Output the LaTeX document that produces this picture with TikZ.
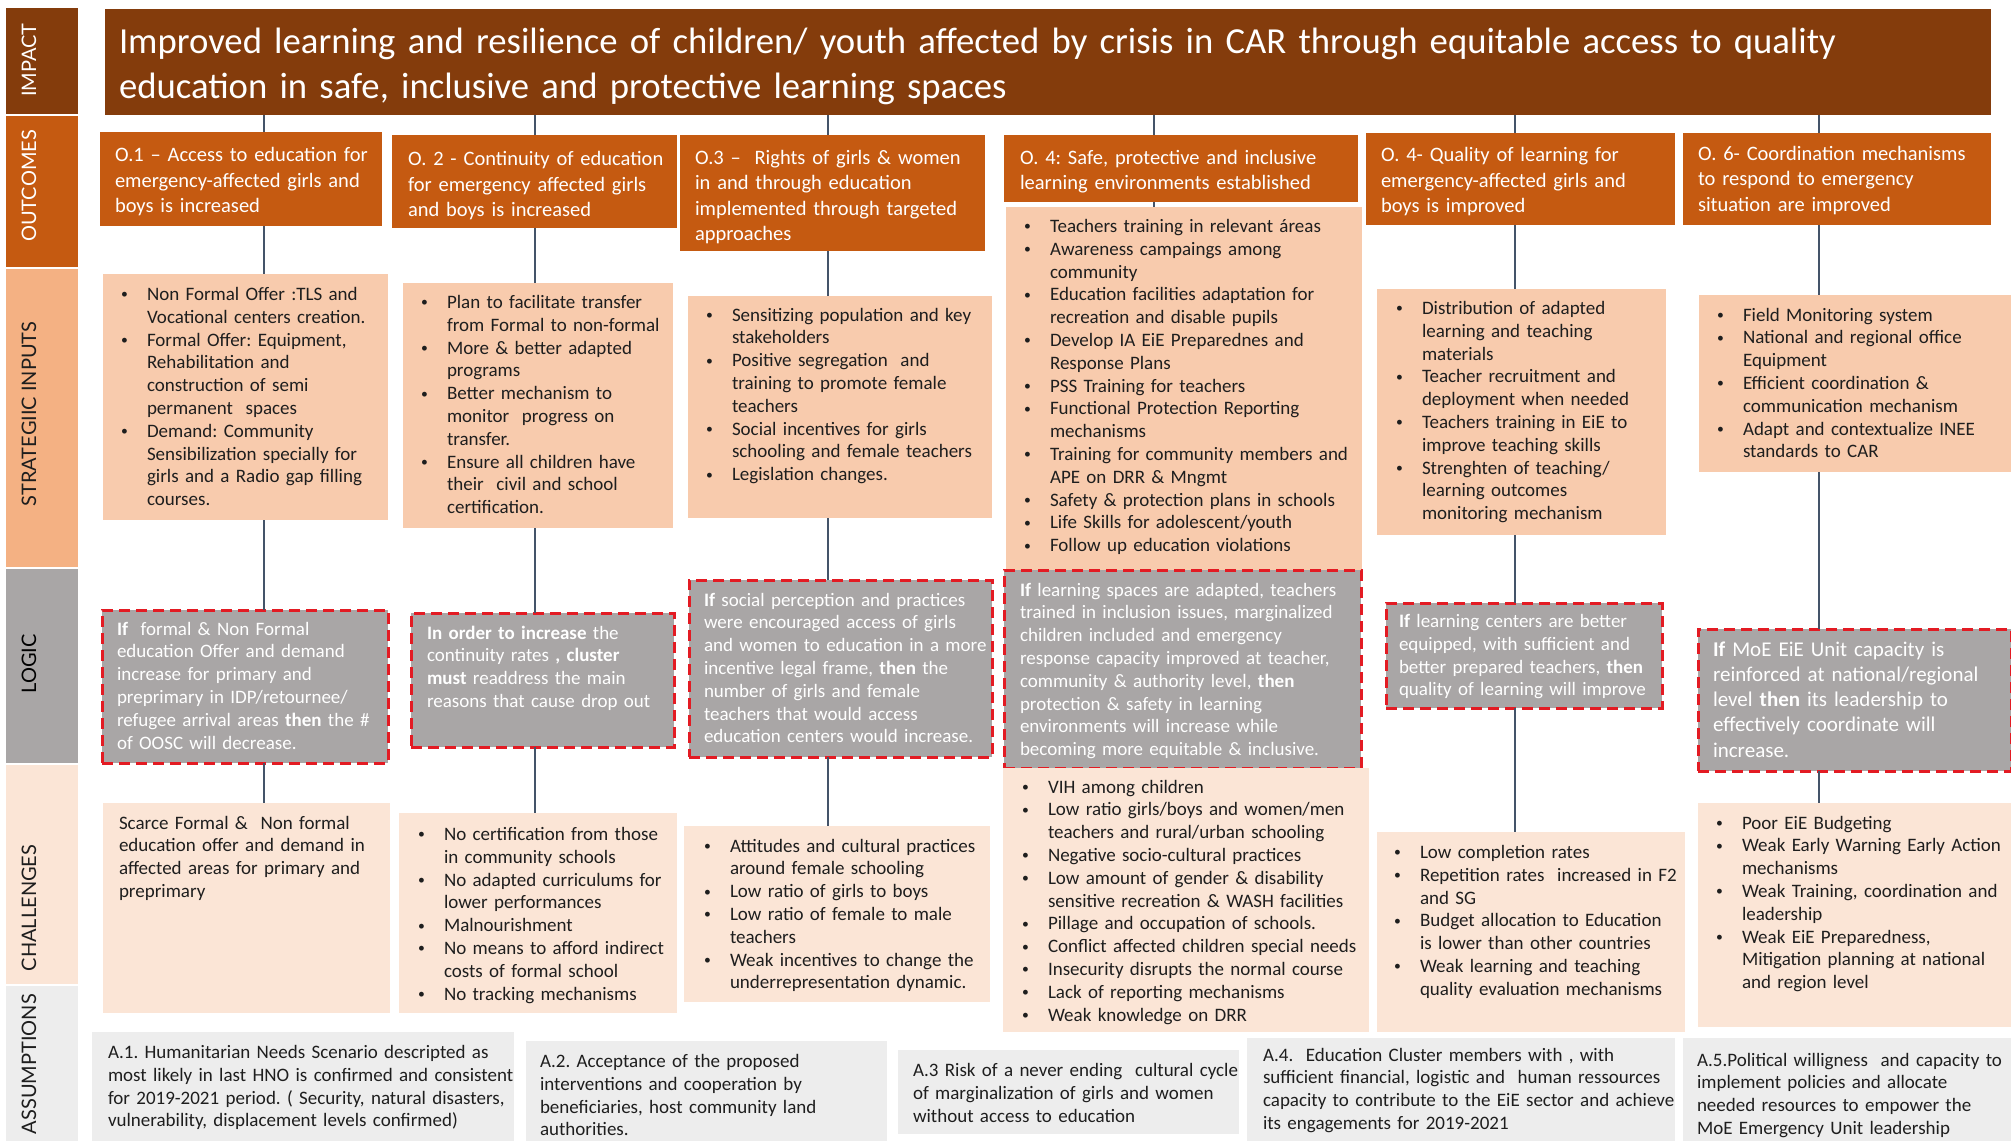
\documentclass[tikz,border=0pt]{standalone}
\usepackage{fontspec}
\setmainfont{Carlito}
\newfontfamily\labelfont{Lato}
\usetikzlibrary{fit}
\frenchspacing
\definecolor{impactc}{HTML}{843C0C}
\definecolor{outc}{HTML}{C55A11}
\definecolor{inpc}{HTML}{F8CBAD}
\definecolor{inpside}{HTML}{F4B183}
\definecolor{logc}{HTML}{A9A6A6}
\definecolor{chc}{HTML}{FBE5D6}
\definecolor{asc}{HTML}{EDEDED}
\definecolor{redd}{HTML}{E31B23}
\definecolor{connc}{HTML}{445469}
\definecolor{txtc}{HTML}{1E1E1E}
\newcommand{\nl}{\unskip\nobreak\hfil\break}
\newcommand{\smbullet}{\raisebox{1.6pt}{\scalebox{0.72}{\textbullet}}}
\newcommand{\bi}[1]{\hangindent=26pt\hangafter=1\noindent\makebox[26pt][l]{\smbullet}#1\par}
\tikzset{
  sidebox/.style={inner sep=0pt, outer sep=0pt},
  lbl/.style={rotate=90, font=\labelfont\fontsize{20}{24}\selectfont, inner sep=0pt},
  hdbox/.style={fill=impactc, inner sep=0pt, outer sep=0pt},
  obox/.style={fill=outc, inner sep=0pt, outer sep=0pt},
  ibox/.style={fill=inpc, inner sep=0pt, outer sep=0pt},
  lbox/.style={fill=logc, draw=redd, line width=3pt, dash pattern=on 11pt off 6pt, inner sep=0pt, outer sep=0pt},
  cbox/.style={fill=chc, inner sep=0pt, outer sep=0pt},
  abox/.style={fill=asc, inner sep=0pt, outer sep=0pt},
  body/.style={anchor=base west, inner sep=0pt, outer sep=0pt, align=left, text=txtc, font=\fontsize{19}{22.8}\selectfont},
  wbody/.style={body, text=white},
  otext/.style={body, text=white, font=\fontsize{20.5}{25.6}\selectfont},
  conn/.style={draw=connc, line width=1.4pt},
}
\begin{document}
\begin{tikzpicture}[x=1pt,y=-1pt]
\useasboundingbox (0,0) rectangle (2011,1141);
\fill[white] (0,0) rectangle (2011,1141);
% sidebar
\node[sidebox, fill=impactc, fit={(6,8) (78,114)}] (sImp) {};
\node[sidebox, fill=outc, fit={(6,116) (78,267)}] (sOut) {};
\node[sidebox, fill=inpside, fit={(6,269) (78,567)}] (sInp) {};
\node[sidebox, fill=logc, fit={(6,569) (78,763)}] (sLog) {};
\node[sidebox, fill=chc, fit={(6,765) (78,984)}] (sCh) {};
\node[sidebox, fill=asc, fit={(6,986) (78,1141)}] (sAs) {};
\node[lbl, text=white] (lImp) at (29,60) {IMPACT};
\node[lbl, text=white] (lOut) at (29,186) {OUTCOMES};
\node[lbl, text=txtc] (lInp) at (29,414) {STRATEGIIC INPUTS};
\node[lbl, text=black] (lLog) at (29,664) {LOGIC};
\node[lbl, text=txtc] (lCh) at (29,908) {CHALLENGES};
\node[lbl, text=txtc] (lAs) at (29,1064) {ASSUMPTIONS};
% column coordinates
\coordinate (c1) at (264,0);
\coordinate (c2) at (535,0);
\coordinate (c3) at (828,0);
\coordinate (c4) at (1154,0);
\coordinate (c5) at (1515,0);
\coordinate (c6) at (1819,0);
% header
\node[hdbox, fit={(105,9) (1991,115)}] (hd) {};
\node[otext, font=\fontsize{36.7}{45}\selectfont, text width=1870pt] (hdt) at (119,53) {Improved learning and resilience of children/ youth affected by crisis in CAR through equitable access to quality\\ education in safe, inclusive and protective learning spaces};
% outcomes
\node[obox, fit={(100,132) (382,226)}] (o1) {};
\node[obox, fit={(392,135) (677,228)}] (o2) {};
\node[obox, fit={(680,135) (985,251)}] (o3) {};
\node[obox, fit={(1004,135) (1358,202)}] (o4) {};
\node[obox, fit={(1366,133) (1675,225)}] (o5) {};
\node[obox, fit={(1683,133) (1991,225)}] (o6) {};
\node[otext, text width=300pt] (o1t) at (115,161.5) {O.1 – Access to education for\\ emergency-affected girls and\\ boys is increased};
\node[otext, text width=300pt] (o2t) at (408,165.5) {O. 2 - Continuity of education\\ for emergency affected girls\\ and boys is increased};
\node[otext, text width=320pt] (o3t) at (695,164) {O.3 –\ \ Rights of girls \& women\\ in and through education\\ implemented through targeted\\ approaches};
\node[otext, text width=360pt] (o4t) at (1020,164) {O. 4: Safe, protective and inclusive\\ learning environments established};
\node[otext, text width=320pt] (o5t) at (1381,161.5) {O. 4- Quality of learning for\\ emergency-affected girls and\\ boys is improved};
\node[otext, text width=320pt] (o6t) at (1698,160) {O. 6- Coordination mechanisms\\ to respond to emergency\\ situation are improved};
% strategic inputs
\node[ibox, fit={(103,274) (388,520)}] (in1) {};
\node[ibox, fit={(403,283) (673,528)}] (in2) {};
\node[ibox, fit={(688,296) (992,518)}] (in3) {};
\node[ibox, fit={(1006,207) (1362,570)}] (in4) {};
\node[ibox, fit={(1377,289) (1666,535)}] (in5) {};
\node[ibox, fit={(1699,295) (2011,472)}] (in6) {};
\node[body, text width=300pt] (in1t) at (121,300.5) {\bi{Non Formal Offer :TLS and\nl Vocational centers creation.}
\bi{Formal Offer: Equipment,\nl Rehabilitation and\nl construction of semi\nl permanent\ \ spaces}
\bi{Demand: Community\nl Sensibilization specially for\nl girls and a Radio gap filling\nl courses.}};
\node[body, text width=300pt] (in2t) at (421,308.5) {\bi{Plan to facilitate transfer\nl from Formal to non-formal}
\bi{More \& better adapted\nl programs}
\bi{Better mechanism to\nl monitor\ \ progress on\nl transfer.}
\bi{Ensure all children have\nl their\ \ civil and school\nl certification.}};
\node[body, text width=320pt] (in3t) at (706,321) {\bi{Sensitizing population and key\nl stakeholders}
\bi{Positive segregation\ \ and\nl training to promote female\nl teachers}
\bi{Social incentives for girls\nl schooling and female teachers}
\bi{Legislation changes.}};
\node[body, text width=380pt] (in4t) at (1024,232.5) {\bi{Teachers training in relevant áreas}
\bi{Awareness campaings among\nl community}
\bi{Education facilities adaptation for\nl recreation and disable pupils}
\bi{Develop IA EiE Preparednes and\nl Response Plans}
\bi{PSS Training for teachers}
\bi{Functional Protection Reporting\nl mechanisms}
\bi{Training for community members and\nl APE on DRR \& Mngmt}
\bi{Safety \& protection plans in schools}
\bi{Life Skills for adolescent/youth}
\bi{Follow up education violations}};
\node[body, text width=300pt] (in5t) at (1396,314.5) {\bi{Distribution of adapted\nl learning and teaching\nl materials}
\bi{Teacher recruitment and\nl deployment when needed}
\bi{Teachers training in EiE to\nl improve teaching skills}
\bi{Strenghten of teaching/\nl learning outcomes\nl monitoring mechanism}};
\node[body, text width=300pt] (in6t) at (1717,321) {\bi{Field Monitoring system}
\bi{National and regional office\nl Equipment}
\bi{Efficient coordination \&\nl communication mechanism}
\bi{Adapt and contextualize INEE\nl standards to CAR}};
% logic
\node[lbox, fit={(102,610) (388,763)}] (lg1) {};
\node[lbox, fit={(411,613) (674,747)}] (lg2) {};
\node[lbox, fit={(689,580) (992,757)}] (lg3) {};
\node[lbox, fit={(1004,570) (1361,768)}] (lg4) {};
\node[lbox, fit={(1386,603) (1662,708)}] (lg5) {};
\node[lbox, fit={(1698,629) (2011,771)}] (lg6) {};
\node[wbody, text width=300pt] (lg1t) at (117,635) {\textbf{If}\ \ formal \& Non Formal\\ education Offer and demand\\ increase for primary and\\ preprimary in IDP/retournee/\\ refugee arrival areas \textbf{then} the \#\\ of OOSC will decrease.};
\node[wbody, text width=300pt] (lg2t) at (427,639) {\textbf{In order to increase} the\\ continuity rates \textbf{, cluster}\\ \textbf{must} readdress the main\\ reasons that cause drop out};
\node[wbody, text width=320pt] (lg3t) at (704,606) {\textbf{If} social perception and practices\\ were encouraged access of girls\\ and women to education in a more\\ incentive legal frame, \textbf{then} the\\ number of girls and female\\ teachers that would access\\ education centers would increase.};
\node[wbody, text width=380pt] (lg4t) at (1020,596) {\textbf{If} learning spaces are adapted, teachers\\ trained in inclusion issues, marginalized\\ children included and emergency\\ response capacity improved at teacher,\\ community \& authority level, \textbf{then}\\ protection \& safety in learning\\ environments will increase while\\ becoming more equitable \& inclusive.};
\node[wbody, text width=300pt] (lg5t) at (1399,627.5) {\textbf{If} learning centers are better\\ equipped, with sufficient and\\ better prepared teachers, \textbf{then}\\ quality of learning will improve};
\node[wbody, text width=300pt, font=\fontsize{21}{25.3}\selectfont] (lg6t) at (1713,656) {\textbf{If} MoE EiE Unit capacity is\\ reinforced at national/regional\\ level \textbf{then} its leadership to\\ effectively coordinate will\\ increase.};
% challenges
\node[cbox, fit={(103,803) (390,1013)}] (ch1) {};
\node[cbox, fit={(399,813) (677,1013)}] (ch2) {};
\node[cbox, fit={(684,826) (990,1002)}] (ch3) {};
\node[cbox, fit={(1003,768) (1369,1032)}] (ch4) {};
\node[cbox, fit={(1377,832) (1685,1032)}] (ch5) {};
\node[cbox, fit={(1698,803) (2011,1027)}] (ch6) {};
\node[body, text width=300pt] (ch1t) at (119,829) {Scarce Formal \&\ \ Non formal\\ education offer and demand in\\ affected areas for primary and\\ preprimary};
\node[body, text width=300pt] (ch2t) at (418,840.5) {\bi{No certification from those\nl in community schools}
\bi{No adapted curriculums for\nl lower performances}
\bi{Malnourishment}
\bi{No means to afford indirect\nl costs of formal school}
\bi{No tracking mechanisms}};
\node[body, text width=320pt] (ch3t) at (704,852) {\bi{Attitudes and cultural practices\nl around female schooling}
\bi{Low ratio of girls to boys}
\bi{Low ratio of female to male\nl teachers}
\bi{Weak incentives to change the\nl underrepresentation dynamic.}};
\node[body, text width=380pt] (ch4t) at (1022,793) {\bi{VIH among children}
\bi{Low ratio girls/boys and women/men\nl teachers and rural/urban schooling}
\bi{Negative socio-cultural practices}
\bi{Low amount of gender \& disability\nl sensitive recreation \& WASH facilities}
\bi{Pillage and occupation of schools.}
\bi{Conflict affected children special needs}
\bi{Insecurity disrupts the normal course}
\bi{Lack of reporting mechanisms}
\bi{Weak knowledge on DRR}};
\node[body, text width=320pt] (ch5t) at (1394,858.5) {\bi{Low completion rates}
\bi{Repetition rates\ \ increased in F2\nl and SG}
\bi{Budget allocation to Education\nl is lower than other countries}
\bi{Weak learning and teaching\nl quality evaluation mechanisms}};
\node[body, text width=320pt] (ch6t) at (1716,829) {\bi{Poor EiE Budgeting}
\bi{Weak Early Warning Early Action\nl mechanisms}
\bi{Weak Training, coordination and\nl leadership}
\bi{Weak EiE Preparedness,\nl Mitigation planning at national\nl and region level}};
% assumptions
\node[abox, fit={(92,1032) (514,1141)}] (as1) {};
\node[abox, fit={(526,1041) (887,1141)}] (as2) {};
\node[abox, fit={(898,1050) (1239,1134)}] (as3) {};
\node[abox, fit={(1247,1038) (1675,1141)}] (as4) {};
\node[abox, fit={(1683,1038) (2011,1141)}] (as5) {};
\node[body, text width=420pt] (as1t) at (108,1058.5) {A.1. Humanitarian Needs Scenario descripted as\\ most likely in last HNO is confirmed and consistent\\ for 2019-2021 period. ( Security, natural disasters,\\ vulnerability, displacement levels confirmed)};
\node[body, text width=360pt] (as2t) at (540,1067.5) {A.2. Acceptance of the proposed\\ interventions and cooperation by\\ beneficiaries, host community land\\ authorities.};
\node[body, text width=340pt] (as3t) at (913,1076.5) {A.3 Risk of a never ending\ \ cultural cycle\\ of marginalization of girls and women\\ without access to education};
\node[body, text width=430pt] (as4t) at (1263,1061) {A.4.\ \ Education Cluster members with , with\\ sufficient financial, logistic and\ \ human ressources\\ capacity to contribute to the EiE sector and achieve\\ its engagements for 2019-2021};
\node[body, text width=330pt] (as5t) at (1697,1066) {A.5.Political willigness\ \ and capacity to\\ implement policies and allocate\\ needed resources to empower the\\ MoE Emergency Unit leadership};
% connectors
\foreach \i in {1,...,6}{
  \draw[conn] (hd.south -| c\i) -- (o\i.north -| c\i);
  \draw[conn] (o\i.south -| c\i) -- (in\i.north -| c\i);
  \draw[conn] (lg\i.south -| c\i) -- (ch\i.north -| c\i);
}
\foreach \i in {1,2,3,5,6}{
  \draw[conn] (in\i.south -| c\i) -- (lg\i.north -| c\i);
}
\end{tikzpicture}
\end{document}
